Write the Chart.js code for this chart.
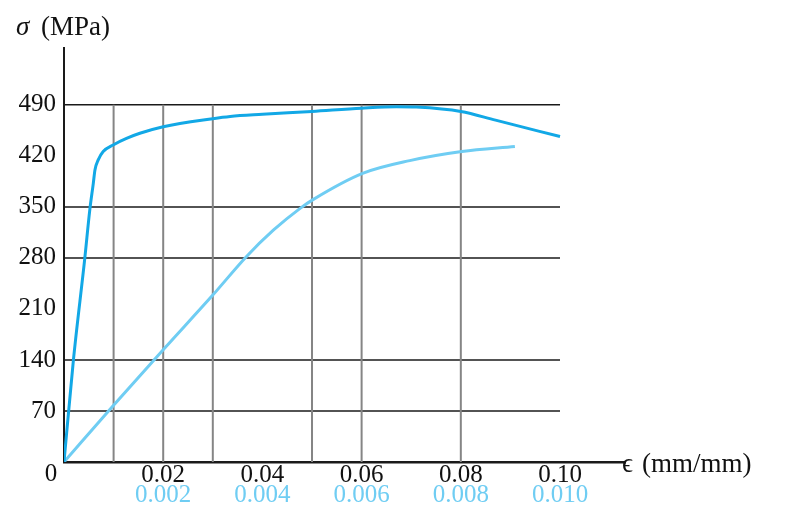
<!DOCTYPE html>
<html>
<head>
<meta charset="utf-8">
<script src="https://cdn.jsdelivr.net/npm/chart.js@4.4.0/dist/chart.umd.min.js"></script>
<style>
  html, body { margin: 0; padding: 0; background: #fff; }
</style>
</head>
<body>
<canvas id="stress-chart" width="792" height="512"></canvas>
<script>
// Upper curve, read on the black strain scale (0 - 0.10)
const darkStrain = [0, 0.0019, 0.0042, 0.0052, 0.0059, 0.00625, 0.0069, 0.0079, 0.0099, 0.0126, 0.0153, 0.02, 0.03, 0.0335, 0.04, 0.05, 0.06, 0.067, 0.071, 0.08, 0.087, 0.10];
const darkStress = [0, 140, 280, 346, 382, 401, 414.5, 426, 435, 444, 451, 460, 471, 474, 477, 481, 485.5, 487.5, 487, 481, 469, 446.5];

// Lower curve, read on the light blue strain scale (0 - 0.010)
const lightStrain = [0, 0.001, 0.002, 0.003, 0.00368, 0.00422, 0.00476, 0.00502, 0.00602, 0.00697, 0.00802, 0.00909];
const lightStress = [0, 78, 154, 229, 282, 318, 348, 360, 396, 413.5, 426, 433];

// Tick labels
const yTicks = [70, 140, 210, 280, 350, 420, 490];
const xTicks = [0.02, 0.04, 0.06, 0.08, 0.10];
const xTickLabels = ["0.02", "0.04", "0.06", "0.08", "0.10"];
const x2Ticks = [0.002, 0.004, 0.006, 0.008, 0.010];
const x2TickLabels = ["0.002", "0.004", "0.006", "0.008", "0.010"];

// Grid lines that are actually drawn in the figure
const hGrid = [70, 140, 280, 350, 490];
const vGrid = [0.01, 0.02, 0.03, 0.05, 0.06, 0.08];
const gridEndX = 0.10;
const gridEndY = 490;

const darkBlue = "#12a8e6";
const lightBlue = "#6fcdf3";
const serif = "'Liberation Serif', 'DejaVu Serif', serif";

/* Partial grid (only up to 0.10 / 490) */
const gridPlugin = {
  id: "partialGrid",
  beforeDatasetsDraw(chart) {
    const { ctx, scales: { x, y } } = chart;
    ctx.save();
    ctx.lineWidth = 1.5;
    ctx.strokeStyle = "#1a1a1a";
    hGrid.forEach((v) => {
      const py = y.getPixelForValue(v);
      ctx.beginPath();
      ctx.moveTo(x.getPixelForValue(0), py);
      ctx.lineTo(x.getPixelForValue(gridEndX), py);
      ctx.stroke();
    });
    ctx.lineWidth = 2;
    ctx.strokeStyle = "#858585";
    vGrid.forEach((v) => {
      const px = x.getPixelForValue(v);
      ctx.beginPath();
      ctx.moveTo(px, y.getPixelForValue(0));
      ctx.lineTo(px, y.getPixelForValue(gridEndY));
      ctx.stroke();
    });
    ctx.restore();
  },
};

/* Axis titles and the shared origin "0" */
const labelPlugin = {
  id: "axisLabels",
  afterDraw(chart) {
    const { ctx, scales: { x, y } } = chart;
    const ox = x.getPixelForValue(0);
    const oy = y.getPixelForValue(0);
    ctx.save();
    ctx.fillStyle = "#111";
    ctx.textBaseline = "alphabetic";

    ctx.font = "25px " + serif;
    ctx.textAlign = "center";
    ctx.fillText("0", ox - 13, oy + 19);

    ctx.textAlign = "left";
    ctx.font = "italic 27px " + serif;
    ctx.fillText("σ", 16, 35);
    ctx.font = "27px " + serif;
    ctx.fillText("(MPa)", 41, 35);

    const ex = x.right;
    ctx.fillText("ϵ", ex - 3, oy + 10);
    ctx.fillText("(mm/mm)", ex + 17, oy + 10);
    ctx.restore();
  },
};

const ctx = document.getElementById("stress-chart").getContext("2d");

new Chart(ctx, {
  type: "line",
  data: {
    datasets: [
      {
        data: darkStrain.map((s, i) => ({ x: s, y: darkStress[i] })),
        xAxisID: "x",
        borderColor: darkBlue,
        borderWidth: 3,
        pointRadius: 0,
        cubicInterpolationMode: "monotone",
      },
      {
        data: lightStrain.map((s, i) => ({ x: s, y: lightStress[i] })),
        xAxisID: "x2",
        borderColor: lightBlue,
        borderWidth: 3,
        pointRadius: 0,
        cubicInterpolationMode: "monotone",
      },
    ],
  },
  options: {
    responsive: false,
    animation: false,
    devicePixelRatio: 1,
    layout: { padding: { top: 48, right: 167, left: 0, bottom: 0 } },
    plugins: { legend: { display: false }, tooltip: { enabled: false } },
    scales: {
      x: {
        type: "linear",
        position: "bottom",
        min: 0,
        max: 0.1131,
        grid: { display: false, drawTicks: false },
        border: { display: true, color: "#1a1a1a", width: 2.5 },
        afterBuildTicks: (scale) => { scale.ticks = xTicks.map((v) => ({ value: v })); },
        afterFit: (scale) => { scale.height = 23; },
        ticks: {
          color: "#111",
          padding: -2,
          autoSkip: false,
          maxRotation: 0,
          font: { family: serif, size: 25 },
          callback: (v, i) => xTickLabels[i],
        },
      },
      x2: {
        type: "linear",
        position: "bottom",
        min: 0,
        max: 0.01131,
        grid: { display: false, drawTicks: false },
        border: { display: false },
        afterBuildTicks: (scale) => { scale.ticks = x2Ticks.map((v) => ({ value: v })); },
        afterFit: (scale) => { scale.height = 27; },
        ticks: {
          color: lightBlue,
          padding: -5,
          autoSkip: false,
          maxRotation: 0,
          font: { family: serif, size: 25 },
          callback: (v, i) => x2TickLabels[i],
        },
      },
      y: {
        type: "linear",
        min: 0,
        max: 568,
        grid: { display: false, drawTicks: false },
        border: { display: true, color: "#1a1a1a", width: 2 },
        afterBuildTicks: (scale) => { scale.ticks = yTicks.map((v) => ({ value: v })); },
        afterFit: (scale) => { scale.width = 64; },
        ticks: {
          color: "#111",
          padding: 8,
          font: { family: serif, size: 25 },
        },
      },
    },
  },
  plugins: [gridPlugin, labelPlugin],
});
</script>
</body>
</html>
